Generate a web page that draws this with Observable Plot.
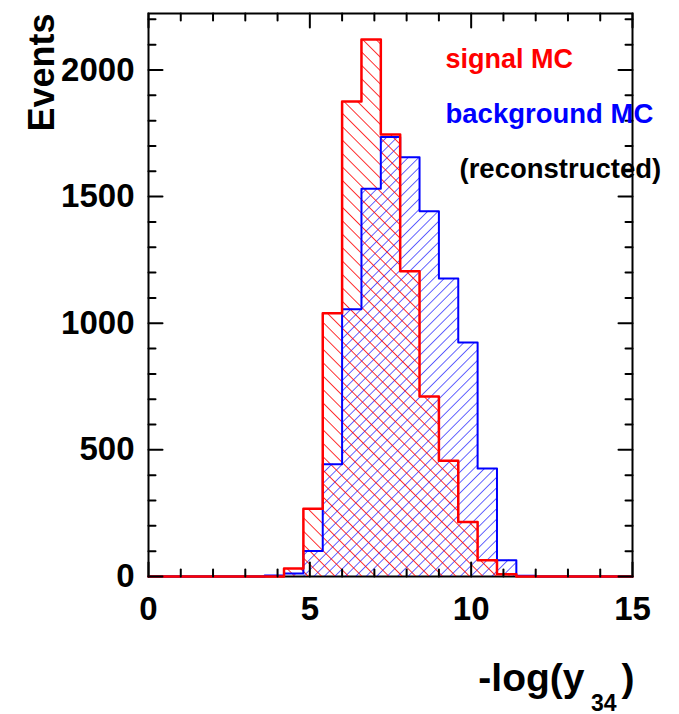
<!DOCTYPE html>
<html><head><meta charset="utf-8">
<script src="https://cdn.jsdelivr.net/npm/d3@7"></script>
<script src="https://cdn.jsdelivr.net/npm/@observablehq/plot@0.6"></script>
<style>html,body{margin:0;padding:0;background:#fff} svg{display:block}</style>
</head><body><div id="chart"></div>
<script>
// ---- data ----
const binEdges = [0,0.6,1.2,1.8,2.4,3.0,3.6,4.2,4.8,5.4,6.0,6.6,7.2,7.8,8.4,9.0,9.6,10.2,10.8,11.4,12.0,12.6,13.2,13.8,14.4,15.0];
const signalCounts = [0,0,0,0,0,0,0,32,268,1039,1876,2120,1745,1205,711,457,215,64,9,0,0,0,0,0,0];
const backgroundCounts = [0,0,0,0,0,0,4,12,101,443,1055,1531,1735,1655,1442,1177,924,426,64,3,0,0,0,0,0];
const xMajorTicks = [0,5,10,15];
const xMinorTicks = [1,2,3,4,6,7,8,9,11,12,13,14];
const yMajorTicks = [0,500,1000,1500,2000];
const yMinorTicks = [100,200,300,400,600,700,800,900,1100,1200,1300,1400,1600,1700,1800,1900,2100,2200];
const xLabelTicks = [0,5,10,15];
const yLabelTicks = [0,500,1000,1500,2000];
const yMax = 2223;
const legendTexts = ["signal MC","background MC","(reconstructed)"];

const RED = "#ff0000", BLUE = "#0000ff";
const FONT = "'Liberation Sans', Arial, Helvetica, sans-serif";

function steps(counts) {
  return binEdges.map((e, i) => ({x: e, y: counts[Math.min(i, counts.length - 1)]}));
}
const sig = steps(signalCounts);
const bkg = steps(backgroundCounts);

const tickShape = {draw(context, l) { context.moveTo(0, 0); context.lineTo(0, -l); }};
function tickVectors(data, opts, len) {
  return Plot.vector(data, {anchor: "start", length: len, shape: tickShape, stroke: "black", strokeWidth: 2, ...opts});
}

const svg = Plot.plot({
  width: 679, height: 714,
  marginLeft: 148, marginRight: 47, marginTop: 13, marginBottom: 138,
  style: {fontFamily: FONT, background: "white", color: "black"},
  x: {domain: [0, 15], label: null},
  y: {domain: [0, yMax], label: null},
  marks: [
    Plot.frame({stroke: "black", strokeWidth: 2}),
    Plot.areaY(bkg, {x: "x", y: "y", curve: "step-after", fill: "url(#hatchBlue)"}),
    Plot.areaY(sig, {x: "x", y: "y", curve: "step-after", fill: "url(#hatchRed)"}),
    Plot.line(bkg, {x: "x", y: "y", curve: "step-after", stroke: BLUE, strokeWidth: 2}),
    Plot.line(sig, {x: "x", y: "y", curve: "step-after", stroke: RED, strokeWidth: 2.5}),
    // ticks, inward on all four sides
    tickVectors(xMajorTicks, {x: d => d, y: 0, rotate: 0}, 14),
    tickVectors(xMinorTicks, {x: d => d, y: 0, rotate: 0}, 7),
    tickVectors(xMajorTicks, {x: d => d, y: yMax, rotate: 180}, 14),
    tickVectors(xMinorTicks, {x: d => d, y: yMax, rotate: 180}, 7),
    tickVectors(yMajorTicks, {x: 0, y: d => d, rotate: 90}, 14),
    tickVectors(yMinorTicks, {x: 0, y: d => d, rotate: 90}, 7),
    tickVectors(yMajorTicks, {x: 15, y: d => d, rotate: 270}, 14),
    tickVectors(yMinorTicks, {x: 15, y: d => d, rotate: 270}, 7),
    Plot.axisX(xLabelTicks, {tickSize: 0, tickPadding: 20, tickFormat: d => String(d), fontSize: 33, fontWeight: "bold", fill: "black", label: null}),
    Plot.axisY(yLabelTicks, {tickSize: 0, tickPadding: 14, tickFormat: d => String(d), fontSize: 33, fontWeight: "bold", fill: "black", label: null}),
    // axis titles
    Plot.text(["Events"], {frameAnchor: "top-left", dx: -95, rotate: -90, textAnchor: "end", lineAnchor: "bottom", fontSize: 36, fontWeight: "bold", fill: "black"}),
    Plot.text([")"], {frameAnchor: "bottom-right", dx: 2, dy: 114, textAnchor: "end", lineAnchor: "bottom", fontSize: 39, fontWeight: "bold", fill: "black"}),
    Plot.text(["34"], {frameAnchor: "bottom-right", dx: -16, dy: 134, textAnchor: "end", lineAnchor: "bottom", fontSize: 23, fontWeight: "bold", fill: "black"}),
    Plot.text(["-log(y"], {frameAnchor: "bottom-right", dx: -48, dy: 114, textAnchor: "end", lineAnchor: "bottom", fontSize: 39, fontWeight: "bold", fill: "black"}),
    // legend texts
    Plot.text([legendTexts[0]], {frameAnchor: "top-left", dx: 297, dy: 54, textAnchor: "start", lineAnchor: "bottom", fontSize: 27, fontWeight: "bold", fill: RED}),
    Plot.text([legendTexts[1]], {frameAnchor: "top-left", dx: 297, dy: 109, textAnchor: "start", lineAnchor: "bottom", fontSize: 27.5, fontWeight: "bold", fill: BLUE}),
    Plot.text([legendTexts[2]], {frameAnchor: "top-left", dx: 311, dy: 164, textAnchor: "start", lineAnchor: "bottom", fontSize: 27.5, fontWeight: "bold", fill: "black"})
  ]
});

d3.select(svg).insert("defs", ":first-child").html(`
  <pattern id="hatchRed" patternUnits="userSpaceOnUse" width="9.5" height="9.5" patternTransform="rotate(-45)">
    <line x1="0" y1="-1" x2="0" y2="11" stroke="${RED}" stroke-width="1.6"/>
  </pattern>
  <pattern id="hatchBlue" patternUnits="userSpaceOnUse" width="7.4" height="7.4" patternTransform="rotate(45)">
    <line x1="0" y1="-1" x2="0" y2="9" stroke="${BLUE}" stroke-width="1.2"/>
  </pattern>`);

document.getElementById("chart").appendChild(svg);
</script>
</body></html>
